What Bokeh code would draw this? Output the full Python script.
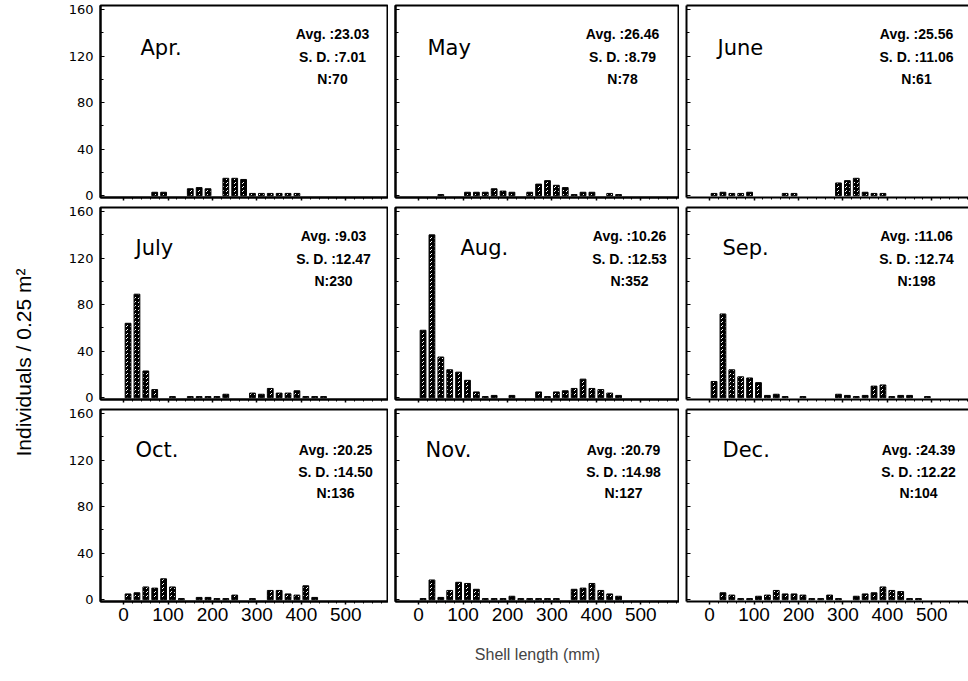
from bokeh.plotting import figure
from bokeh.models import Range1d, FixedTicker, Label, ColumnDataSource, LinearAxis
from bokeh.layouts import row, column
from bokeh.embed import file_html
from bokeh.resources import INLINE

# ---------------- data ----------------
bin_centers = [10, 30, 50, 70, 90, 110, 130, 150, 170, 190, 210, 230, 250,
               270, 290, 310, 330, 350, 370, 390, 410, 430, 450, 470, 490]

months = ["Apr.", "May", "June", "July", "Aug.", "Sep.", "Oct.", "Nov.", "Dec."]
avg_text = ["23.03", "26.46", "25.56", "9.03", "10.26", "11.06", "20.25", "20.79", "24.39"]
sd_text = ["7.01", "8.79", "11.06", "12.47", "12.53", "12.74", "14.50", "14.98", "12.22"]
n_text = ["70", "78", "61", "230", "352", "198", "136", "127", "104"]

apr = [0, 0, 0, 3, 3, 0, 0, 6, 7, 6, 0, 15, 15, 14, 2, 2, 2, 2, 2, 2, 0, 0, 0, 0, 0]
may = [0, 0, 1, 0, 0, 3, 3, 3, 6, 4, 3, 0, 3, 10, 13, 9, 7, 1, 3, 3, 0, 2, 1, 0, 0]
jun = [2, 3, 2, 2, 3, 0, 0, 0, 2, 2, 0, 0, 0, 0, 11, 13, 15, 3, 2, 2, 0, 0, 0, 0, 0]
jul = [64, 89, 23, 7, 0, 1, 0, 1, 1, 1, 1, 3, 0, 0, 4, 3, 8, 4, 4, 6, 1, 1, 1, 0, 0]
aug = [58, 140, 35, 24, 22, 15, 5, 1, 2, 0, 2, 0, 0, 5, 1, 5, 6, 8, 16, 8, 7, 4, 2, 0, 0]
sep = [14, 72, 24, 18, 17, 13, 2, 3, 1, 0, 1, 0, 0, 0, 3, 2, 1, 2, 10, 11, 1, 2, 2, 0, 1]
octo = [5, 6, 11, 10, 18, 11, 1, 0, 2, 2, 1, 1, 4, 0, 1, 0, 8, 8, 5, 4, 12, 2, 0, 0, 0]
nov = [1, 17, 2, 8, 15, 14, 9, 1, 1, 1, 3, 1, 1, 1, 1, 1, 0, 9, 10, 14, 8, 5, 3, 0, 0]
dec = [0, 6, 4, 1, 1, 3, 4, 8, 5, 5, 4, 1, 1, 4, 1, 0, 3, 5, 6, 11, 8, 7, 1, 1, 0]
series = [apr, may, jun, jul, aug, sep, octo, nov, dec]

x_tick_values = [0, 100, 200, 300, 400, 500]
x_tick_labels = ["0", "100", "200", "300", "400", "500"]
y_tick_values = [0, 40, 80, 120, 160]
y_minor_values = [20, 60, 100, 140]

x_title = "Shell length (mm)"
y_title = "Individuals / 0.25 m\u00b2"

# ---------------- layout constants ----------------
SCALE = 0.4444          # px per x unit
X0 = -52.0
Y0, Y1 = -1.5, 163.5
FH = 192
YS = FH / (Y1 - Y0)
FW = [288, 284, 282]
BORDER_L = [56, 7, 7]
BORDER_T = [5, 4, 4]
BORDER_B = [6, 6, 60]
LABEL_W = 44

month_dx = [40, 32, 31, 35, 65, 36, 35, 30, 36]
stat_dx = [232, 227, 230, 233, 234, 230, 235, 228, 232]
month_base_dy = [42, 40, 40]
stat_dy = [[28, 51, 73], [28, 51, 73], [40, 62, 83]]

SANS = "Liberation Sans"
WIDE = "DejaVu Sans"


def px_x(dx):
    return X0 + dx / SCALE


def px_y(dy):
    return Y1 - dy / YS


x_minor = [v for v in range(0, 600, 20) if v not in x_tick_values]


def hide_labels(ax):
    ax.major_label_text_font_size = "0px"
    ax.major_label_text_color = None
    ax.major_label_standoff = 0


rows = []
for r in range(3):
    figs = []
    for c in range(3):
        i = r * 3 + c
        fw = FW[c]
        p = figure(frame_width=fw, frame_height=FH,
                   x_range=Range1d(X0, X0 + fw / SCALE),
                   y_range=Range1d(Y0, Y1),
                   output_backend="svg", toolbar_location=None, title=None,
                   min_border_left=BORDER_L[c], min_border_right=0,
                   min_border_top=BORDER_T[r], min_border_bottom=BORDER_B[r],
                   background_fill_color="white", border_fill_color="white",
                   outline_line_color="black", outline_line_width=2)
        p.xgrid.visible = False
        p.ygrid.visible = False

        vals = series[i]
        xs = [x for x, v in zip(bin_centers, vals) if v > 0]
        ts = [v for v in vals if v > 0]
        src = ColumnDataSource(dict(x=xs, top=ts))
        p.vbar(x="x", top="top", bottom=0, width=13, source=src,
               fill_color="black", line_color="black", line_width=1,
               hatch_pattern="right_diagonal_dash", hatch_color="white",
               hatch_scale=4, hatch_weight=1)

        # x axis
        xa = p.xaxis[0]
        xa.ticker = FixedTicker(ticks=x_tick_values, minor_ticks=x_minor)
        xa.axis_line_width = 2
        xa.major_tick_in = 0
        xa.major_tick_out = 3
        xa.minor_tick_in = 0
        xa.minor_tick_out = 2
        xa.major_tick_line_width = 1.5
        if r == 2:
            xa.major_label_overrides = {v: s for v, s in zip(x_tick_values, x_tick_labels)}
            xa.major_label_text_font = SANS
            xa.major_label_text_font_size = "19px"
            xa.major_label_text_color = "black"
            xa.major_label_standoff = 3
            if c == 1:
                xa.axis_label = x_title
                xa.axis_label_text_font = SANS
                xa.axis_label_text_font_size = "16px"
                xa.axis_label_text_font_style = "normal"
                xa.axis_label_standoff = 22
        else:
            hide_labels(xa)

        # y axis
        ya = p.yaxis[0]
        ya.ticker = FixedTicker(ticks=y_tick_values, minor_ticks=y_minor_values)
        ya.axis_line_width = 2
        ya.major_tick_in = 4
        ya.major_tick_out = 0
        ya.minor_tick_in = 3
        ya.minor_tick_out = 0
        if c == 0:
            ya.major_label_text_font = WIDE
            ya.major_label_text_font_size = "13px"
            ya.major_label_text_color = "black"
            ya.major_label_standoff = 7
        else:
            hide_labels(ya)

        # right column runs off the page: no right border line
        if c == 2:
            p.outline_line_color = None
            ta = LinearAxis(ticker=FixedTicker(ticks=[]), axis_line_width=2,
                            major_tick_in=0, major_tick_out=0,
                            minor_tick_in=0, minor_tick_out=0)
            hide_labels(ta)
            p.add_layout(ta, "above")

        # month name
        p.add_layout(Label(x=px_x(month_dx[i]), y=px_y(month_base_dy[r]), text=months[i],
                           text_font=WIDE, text_font_size="21px",
                           text_align="left", text_baseline="alphabetic",
                           text_color="black"))
        # statistics
        lines = ["Avg. :" + avg_text[i], "S. D. :" + sd_text[i], "N:" + n_text[i]]
        for dy, txt in zip(stat_dy[r], lines):
            p.add_layout(Label(x=px_x(stat_dx[i]), y=px_y(dy), text=txt,
                               text_font=SANS, text_font_size="14px",
                               text_font_style="bold",
                               text_align="center", text_baseline="middle",
                               text_color="black"))
        figs.append(p)
    rows.append(row(*figs))

grid = column(*rows)

H = 671
lab = figure(frame_width=LABEL_W, frame_height=H, x_range=Range1d(0, LABEL_W),
             y_range=Range1d(0, H), output_backend="svg", toolbar_location=None,
             title=None, min_border=0, outline_line_color=None,
             background_fill_color="white", border_fill_color="white")
lab.axis.visible = False
lab.xgrid.visible = False
lab.ygrid.visible = False
lab.add_layout(Label(x=23, y=H - 362, text=y_title, angle=90, angle_units="deg",
                     text_font=SANS, text_font_size="21px",
                     text_align="center", text_baseline="middle", text_color="black"))

page = row(lab, grid)
open("out.html", "w").write(file_html(page, INLINE))
